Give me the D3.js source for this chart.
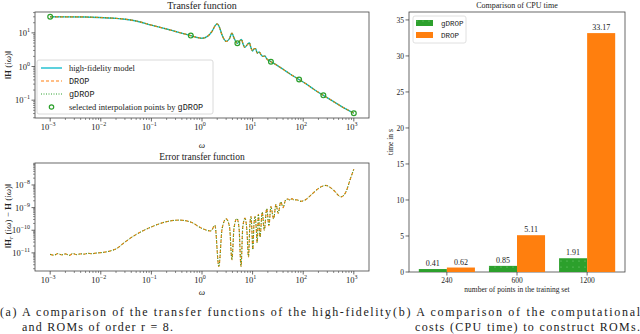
<!DOCTYPE html>
<html>
<head>
<meta charset="utf-8">
<script src="https://cdn.jsdelivr.net/npm/d3@7"></script>
<style>
  body { margin: 0; background: #fff; }
</style>
</head>
<body>
<div id="chart"></div>
<script>
// ---- transfer function (high-fidelity / DROP / gDROP overlap) ----
var tfOmega = [1e-3, 2e-3, 5e-3, 1e-2, 2e-2, 3e-2, 5e-2, 0.1, 0.2, 0.3, 0.45, 0.6, 0.8, 1.0, 1.3, 1.6, 1.85, 2.0, 2.2, 2.5,
  3.0, 3.5, 3.9, 4.3, 5.0, 5.6, 6.0, 6.5, 7.0, 7.8, 8.6, 9.3, 10, 10.8, 11.5, 12.3, 13.5, 14.5, 16, 17.5,
  19, 23, 30, 40, 55, 83, 120, 170, 250, 400, 600, 1000];
var tfHF = [30, 29.9, 29.6, 28.5, 27, 25.5, 22.5, 17, 13, 11, 9.3, 8.3, 7.3, 6.9, 8.0, 11.5, 17, 18.5, 15, 8.5,
  5.6, 6.8, 9.8, 7.0, 4.9, 5.8, 6.4, 4.6, 3.7, 4.4, 5.1, 3.6, 2.9, 3.4, 3.4, 2.5, 2.7, 2.3, 2.0, 2.05,
  1.7, 1.39, 1.1, 0.83, 0.6, 0.41, 0.29, 0.2, 0.139, 0.09, 0.062, 0.041];
var tfDROP = tfHF;
var tfGDROP = tfHF;

// interpolation points selected by gDROP
var selOmega = [1e-3, 0.6, 5, 23, 83, 250, 1000];
var selValue = [30, 8.3, 4.9, 1.39, 0.41, 0.139, 0.041];

// ---- error transfer function ----
var errOmega = [1e-3, 1.2e-3, 1.4e-3, 1.7e-3, 2e-3, 2.4e-3, 2.8e-3, 3.3e-3, 4e-3, 4.7e-3, 5.6e-3, 6.6e-3, 8e-3, 1e-2,
  0.015, 0.02, 0.03, 0.05, 0.1, 0.2, 0.35, 0.6, 1.0, 1.5, 1.8, 2.15, 2.5, 3.0, 3.5, 3.9, 4.3, 4.9, 5.4, 5.9,
  6.4, 7.1, 7.7, 8.3, 8.8, 9.3, 9.7, 10.1, 10.6, 11.2, 11.8, 12.3, 13, 14, 15.5, 17, 19, 21, 23, 26, 29, 32,
  36, 40, 45, 50, 55, 60, 65, 75, 90, 110, 150, 200, 280, 380, 560, 700, 850, 1000];
var errDROP = [8.6e-12, 7.9e-12, 9.3e-12, 8.2e-12, 9.0e-12, 7.8e-12, 9.4e-12, 8.4e-12, 9.1e-12, 8.8e-12, 9.6e-12, 9.2e-12, 9.8e-12, 1.02e-11,
  1.2e-11, 1.5e-11, 3e-11, 6.5e-11, 1.4e-10, 2.4e-10, 2.8e-10, 2.3e-10, 1.2e-10, 9.3e-11, 1.65e-10, 2.5e-12, 1.2e-10, 3.2e-10, 1.4e-10, 5e-12, 1.3e-10, 3.3e-10, 1.2e-10, 2.5e-12,
  1.4e-10, 3.4e-10, 1.0e-10, 6.6e-12, 1.5e-10, 4e-10, 9e-11, 1.4e-11, 1.6e-10, 4e-10, 1.2e-10, 2.8e-11, 5e-10, 5e-11, 6.3e-10, 1e-10, 9e-10, 1.6e-10, 1.1e-9, 3.2e-10, 1.4e-9, 5.6e-10,
  1.8e-9, 1e-9, 2.2e-9, 2.4e-9, 2.1e-9, 2.5e-9, 2.2e-9, 2.2e-9, 1.9e-9, 2.2e-9, 4e-9, 7e-9, 9.5e-9, 6.5e-9, 3e-9, 5e-9, 1.8e-8, 5e-8];
var errGDROP = errDROP;

// ---- CPU time ----
var trainSizes = ["240", "600", "1200"];
var cpuGDROP = [0.41, 0.85, 1.91];
var cpuDROP = [0.62, 5.11, 33.17];
var barTicks = [0, 5, 10, 15, 20, 25, 30, 35];

var cCyan = "#17becf", cOrange = "#ff7f0e", cGreen = "#2ca02c";
var SERIF = "Liberation Serif", MONO = "Liberation Mono";

var svg = d3.select("#chart").append("svg")
  .attr("width", 640).attr("height", 334)
  .attr("font-family", SERIF).attr("fill", "#222");

var defs = svg.append("defs");
var pat = defs.append("pattern").attr("id", "dots")
  .attr("patternUnits", "userSpaceOnUse").attr("width", 6).attr("height", 6);
pat.append("rect").attr("width", 6).attr("height", 6).attr("fill", cGreen);
pat.append("circle").attr("cx", 3).attr("cy", 3).attr("r", 0.6).attr("fill", "#7fcf7f");

// superscript tick label "10^k"
function powLabel(sel, k) {
  sel.text("10");
  sel.append("tspan").attr("dy", -4).attr("font-size", 6)
    .text(k < 0 ? "\u2212" + (-k) : "" + k);
}

// draws log-log panel frame + ticks
function logPanel(left, right, top, bottom, xDom, yDom, xMajors, yMajors) {
  var x = d3.scaleLog().domain(xDom).range([left, right]);
  var y = d3.scaleLog().domain(yDom).range([bottom, top]);
  var g = svg.append("g");
  g.append("rect").attr("x", left).attr("y", top)
    .attr("width", right - left).attr("height", bottom - top)
    .attr("fill", "none").attr("stroke", "#444").attr("stroke-width", 0.8);

  // x ticks
  xMajors.forEach(function(k) {
    for (var m = 1; m < 10; m++) {
      var v = m * Math.pow(10, k);
      if (v < xDom[0] || v > xDom[1]) continue;
      g.append("line").attr("x1", x(v)).attr("x2", x(v))
        .attr("y1", bottom).attr("y2", bottom + (m == 1 ? 3.5 : 2))
        .attr("stroke", "#444").attr("stroke-width", m == 1 ? 0.8 : 0.6);
    }
    var t = g.append("text").attr("x", x(Math.pow(10, k)) - 2).attr("y", bottom + 12)
      .attr("text-anchor", "middle").attr("font-size", 8.5);
    powLabel(t, k);
  });
  // y ticks
  var k0 = Math.floor(Math.log10(yDom[0])), k1 = Math.ceil(Math.log10(yDom[1]));
  for (var k = k0; k <= k1; k++) {
    for (var m = 1; m < 10; m++) {
      var v = m * Math.pow(10, k);
      if (v < yDom[0] || v > yDom[1]) continue;
      g.append("line").attr("x1", left).attr("x2", left - (m == 1 ? 3.5 : 2))
        .attr("y1", y(v)).attr("y2", y(v))
        .attr("stroke", "#444").attr("stroke-width", m == 1 ? 0.8 : 0.6);
    }
  }
  yMajors.forEach(function(k) {
    var t = g.append("text").attr("x", left - 5).attr("y", y(Math.pow(10, k)) + 3)
      .attr("text-anchor", "end").attr("font-size", 8.5);
    powLabel(t, k);
  });
  return {x: x, y: y, g: g};
}

function drawLine(p, xs, ys, color, width, dash) {
  var line = d3.line()
    .x(function(d, i) { return p.x(xs[i]); })
    .y(function(d) { return p.y(d); })
    .curve(d3.curveMonotoneX);
  p.g.append("path").datum(ys).attr("d", line)
    .attr("fill", "none").attr("stroke", color)
    .attr("stroke-width", width).attr("stroke-dasharray", dash);
}

// ===== top left: transfer function =====
var p1 = logPanel(35, 369, 12, 118, [Math.pow(10, -3.3), Math.pow(10, 3.3)],
  [Math.pow(10, -1.53), Math.pow(10, 1.62)], [-3, -2, -1, 0, 1, 2, 3], [-1, 0, 1]);
drawLine(p1, tfOmega, tfHF, cCyan, 1.4, null);
drawLine(p1, tfOmega, tfDROP, cOrange, 1.2, "3,2");
drawLine(p1, tfOmega, tfGDROP, cGreen, 1.0, "1,1.5");
p1.g.selectAll(".sel").data(selValue).enter().append("circle")
  .attr("cx", function(d, i) { return p1.x(selOmega[i]); })
  .attr("cy", function(d) { return p1.y(d); })
  .attr("r", 2.4).attr("fill", "none").attr("stroke", cGreen).attr("stroke-width", 1.2);

svg.append("text").attr("x", 202).attr("y", 9).attr("text-anchor", "middle")
  .attr("font-size", 10).text("Transfer function");
svg.append("text").attr("x", 202).attr("y", 148).attr("text-anchor", "middle")
  .attr("font-size", 9).attr("font-style", "italic").text("\u03c9");
var yl1 = svg.append("text").attr("transform", "translate(11,65) rotate(-90)")
  .attr("text-anchor", "middle").attr("font-size", 9);
yl1.append("tspan").text("\u2016");
yl1.append("tspan").attr("font-weight", "bold").text("H");
yl1.append("tspan").text(" (i");
yl1.append("tspan").attr("font-style", "italic").text("\u03c9");
yl1.append("tspan").text(")\u2016");

// legend
var lg = svg.append("g");
lg.append("rect").attr("x", 37).attr("y", 60).attr("width", 176).attr("height", 54).attr("rx", 2)
  .attr("fill", "#fff").attr("fill-opacity", 0.85).attr("stroke", "#d0d0d0").attr("stroke-width", 0.8);
var legItems = [
  {label: "high-fidelity model", color: cCyan, dash: null, w: 1.4},
  {label: "DROP", color: cOrange, dash: "3,2", w: 1.2, mono: true},
  {label: "gDROP", color: cGreen, dash: "1,1.5", w: 1.0, mono: true}
];
legItems.forEach(function(it, i) {
  var yy = 68 + i * 13;
  lg.append("line").attr("x1", 41).attr("x2", 62).attr("y1", yy).attr("y2", yy)
    .attr("stroke", it.color).attr("stroke-width", it.w).attr("stroke-dasharray", it.dash);
  lg.append("text").attr("x", 69).attr("y", yy + 3).attr("font-size", 8.5)
    .attr("font-family", it.mono ? MONO : SERIF).text(it.label);
});
lg.append("circle").attr("cx", 51.5).attr("cy", 107).attr("r", 2.2)
  .attr("fill", "none").attr("stroke", cGreen).attr("stroke-width", 1.2);
var lt = lg.append("text").attr("x", 69).attr("y", 110).attr("font-size", 8.5);
lt.append("tspan").text("selected interpolation points by ");
lt.append("tspan").attr("font-family", MONO).text("gDROP");

// ===== bottom left: error transfer function =====
var p2 = logPanel(35, 369, 163, 271, [Math.pow(10, -3.3), Math.pow(10, 3.3)],
  [Math.pow(10, -11.8), Math.pow(10, -7.03)], [-3, -2, -1, 0, 1, 2, 3], [-11, -10, -9, -8]);
drawLine(p2, errOmega, errDROP, cOrange, 1.2, "3,2");
drawLine(p2, errOmega, errGDROP, cGreen, 1.0, "1,1.5");

svg.append("text").attr("x", 202).attr("y", 160).attr("text-anchor", "middle")
  .attr("font-size", 9.5).text("Error transfer function");
svg.append("text").attr("x", 202).attr("y", 295).attr("text-anchor", "middle")
  .attr("font-size", 9).attr("font-style", "italic").text("\u03c9");
var yl2 = svg.append("text").attr("transform", "translate(11,216) rotate(-90)")
  .attr("text-anchor", "middle").attr("font-size", 9);
yl2.append("tspan").text("\u2016");
yl2.append("tspan").attr("font-weight", "bold").text("H");
yl2.append("tspan").attr("font-style", "italic").attr("font-size", 6).attr("dy", 2).text("r");
yl2.append("tspan").attr("dy", -2).text(" (i");
yl2.append("tspan").attr("font-style", "italic").text("\u03c9");
yl2.append("tspan").text(") \u2212 ");
yl2.append("tspan").attr("font-weight", "bold").text("H");
yl2.append("tspan").text(" (i");
yl2.append("tspan").attr("font-style", "italic").text("\u03c9");
yl2.append("tspan").text(")\u2016");

// ===== right: CPU time bars =====
var bx = d3.scaleLinear().domain([-0.54, 2.54]).range([409, 625]);
var by = d3.scaleLinear().domain([0, 36.1]).range([272, 12]);
var bw = bx(0.4) - bx(0);
var bg = svg.append("g");

bg.append("rect").attr("x", 409).attr("y", 12).attr("width", 216).attr("height", 260)
  .attr("fill", "none").attr("stroke", "#444").attr("stroke-width", 0.8);

bg.selectAll(".bg").data(cpuGDROP).enter().append("rect")
  .attr("x", function(d, i) { return bx(i) - bw; })
  .attr("y", function(d) { return by(d); })
  .attr("width", bw).attr("height", function(d) { return by(0) - by(d); })
  .attr("fill", "url(#dots)");
bg.selectAll(".bo").data(cpuDROP).enter().append("rect")
  .attr("x", function(d, i) { return bx(i); })
  .attr("y", function(d) { return by(d); })
  .attr("width", bw).attr("height", function(d) { return by(0) - by(d); })
  .attr("fill", cOrange);

bg.selectAll(".lg").data(cpuGDROP).enter().append("text")
  .attr("x", function(d, i) { return bx(i) - bw / 2; })
  .attr("y", function(d) { return by(d) - 3; })
  .attr("text-anchor", "middle").attr("font-size", 8).text(function(d) { return d.toFixed(2); });
bg.selectAll(".lo").data(cpuDROP).enter().append("text")
  .attr("x", function(d, i) { return bx(i) + bw / 2; })
  .attr("y", function(d) { return by(d) - 3; })
  .attr("text-anchor", "middle").attr("font-size", 8).text(function(d) { return d.toFixed(2); });

// axes
barTicks.forEach(function(v) {
  bg.append("line").attr("x1", 409).attr("x2", 405.5).attr("y1", by(v)).attr("y2", by(v))
    .attr("stroke", "#444").attr("stroke-width", 0.8);
  bg.append("text").attr("x", 404).attr("y", by(v) + 3).attr("text-anchor", "end")
    .attr("font-size", 7.5).text(v);
});
trainSizes.forEach(function(s, i) {
  bg.append("line").attr("x1", bx(i)).attr("x2", bx(i)).attr("y1", 272).attr("y2", 275.5)
    .attr("stroke", "#444").attr("stroke-width", 0.8);
  bg.append("text").attr("x", bx(i)).attr("y", 283).attr("text-anchor", "middle")
    .attr("font-size", 7.5).text(s);
});
svg.append("text").attr("x", 517).attr("y", 8).attr("text-anchor", "middle")
  .attr("font-size", 8).text("Comparison of CPU time");
svg.append("text").attr("x", 517).attr("y", 292).attr("text-anchor", "middle")
  .attr("font-size", 7.5).text("number of points in the training set");
svg.append("text").attr("transform", "translate(393,142) rotate(-90)")
  .attr("text-anchor", "middle").attr("font-size", 7.5).text("time in s");

// bar legend
bg.append("rect").attr("x", 413).attr("y", 16).attr("width", 53).attr("height", 27).attr("rx", 2)
  .attr("fill", "#fff").attr("stroke", "#d8d8d8").attr("stroke-width", 0.8);
bg.append("rect").attr("x", 416).attr("y", 20).attr("width", 17).attr("height", 6).attr("fill", "url(#dots)");
bg.append("rect").attr("x", 416).attr("y", 32).attr("width", 17).attr("height", 6).attr("fill", cOrange);
bg.append("text").attr("x", 441).attr("y", 26).attr("font-size", 7.5).attr("font-family", MONO).text("gDROP");
bg.append("text").attr("x", 441).attr("y", 38).attr("font-size", 7.5).attr("font-family", MONO).text("DROP");

// ===== captions =====
var cap = [
  {x: 0, y: 316, w: 391, t: "(a) A comparison of the transfer functions of the high-fidelity"},
  {x: 22, y: 331, w: 151, t: "and ROMs of order r = 8."},
  {x: 393, y: 316, w: 247, t: "(b) A comparison of the computational"},
  {x: 415, y: 331, w: 225, t: "costs (CPU time) to construct ROMs."}
];
cap.forEach(function(c) {
  svg.append("text").attr("x", c.x).attr("y", c.y).attr("font-size", 12)
    .attr("textLength", c.w).attr("lengthAdjust", "spacing").text(c.t);
});
</script>
</body>
</html>
